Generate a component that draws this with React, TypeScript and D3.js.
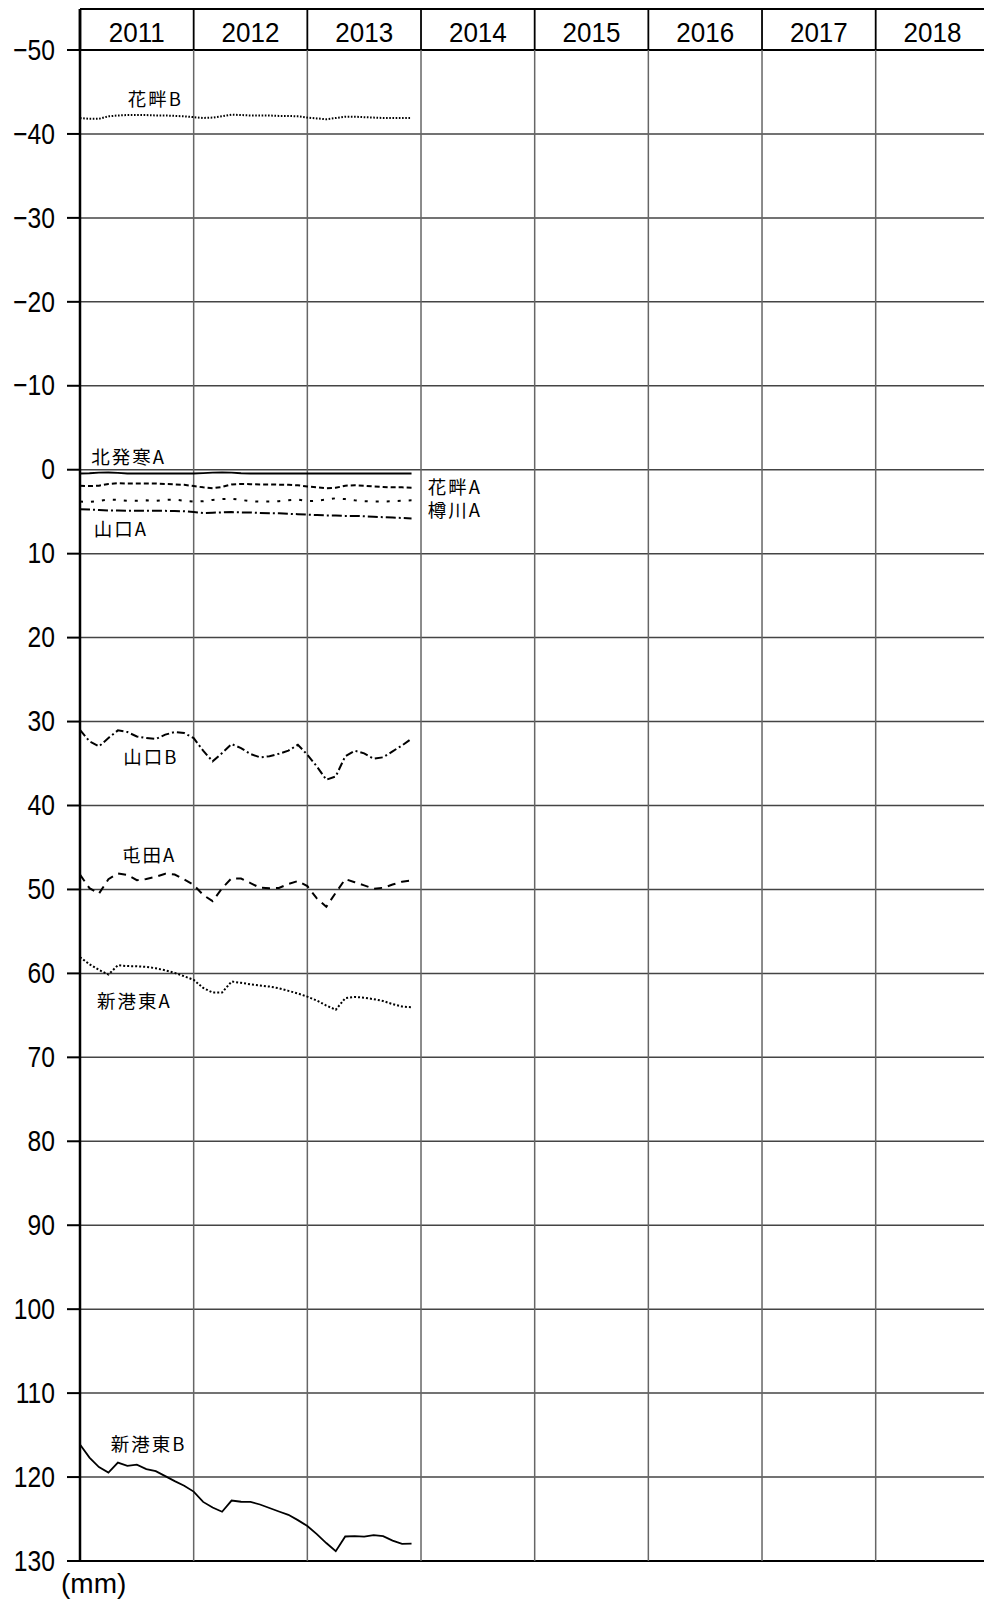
import React from "react";
import * as d3 from "d3";

// ---- Data (monthly, Jan 2011 – Dec 2013), settlement in mm ----
const years = ["2011", "2012", "2013", "2014", "2015", "2016", "2017", "2018"];
const yTicks = [-50, -40, -30, -20, -10, 0, 10, 20, 30, 40, 50, 60, 70, 80, 90, 100, 110, 120, 130];

const hanaguroB = [-41.9, -41.8, -41.8, -42.1, -42.2, -42.25, -42.25, -42.25, -42.2, -42.2, -42.15, -42.1,
  -42.0, -41.9, -41.95, -42.1, -42.3, -42.25, -42.2, -42.2, -42.2, -42.15, -42.15, -42.1,
  -41.95, -41.85, -41.75, -41.9, -42.05, -42.05, -42.0, -41.95, -41.9, -41.9, -41.9, -41.9];
const kitahassamuA = [0.45, 0.42, 0.35, 0.33, 0.38, 0.45, 0.45, 0.45, 0.45, 0.45, 0.45, 0.45,
  0.45, 0.4, 0.35, 0.33, 0.35, 0.42, 0.45, 0.45, 0.45, 0.45, 0.45, 0.45,
  0.45, 0.45, 0.45, 0.45, 0.45, 0.45, 0.45, 0.45, 0.45, 0.45, 0.45, 0.45];
const hanaguroA = [1.9, 1.95, 1.9, 1.7, 1.6, 1.65, 1.65, 1.65, 1.65, 1.7, 1.75, 1.8,
  1.95, 2.1, 2.2, 2.05, 1.75, 1.7, 1.72, 1.75, 1.75, 1.78, 1.8, 1.85,
  2.0, 2.1, 2.2, 2.15, 1.9, 1.85, 1.9, 2.0, 2.05, 2.1, 2.1, 2.15];
const tarukawaA = [3.8, 3.85, 3.7, 3.55, 3.6, 3.7, 3.7, 3.65, 3.7, 3.6, 3.55, 3.7,
  3.8, 3.75, 3.6, 3.5, 3.45, 3.6, 3.75, 3.8, 3.8, 3.75, 3.65, 3.55,
  3.75, 3.7, 3.55, 3.4, 3.5, 3.65, 3.75, 3.8, 3.8, 3.75, 3.7, 3.65];
const yamaguchiA = [4.7, 4.75, 4.8, 4.85, 4.85, 4.88, 4.88, 4.9, 4.9, 4.9, 4.92, 4.95,
  5.05, 5.15, 5.12, 5.08, 5.05, 5.08, 5.1, 5.15, 5.18, 5.2, 5.25, 5.3,
  5.35, 5.4, 5.45, 5.45, 5.5, 5.5, 5.55, 5.6, 5.65, 5.7, 5.75, 5.8];
const yamaguchiB = [31.0, 32.36, 32.96, 31.96, 31.05, 31.25, 31.77, 31.97, 32.08, 31.56, 31.25, 31.37,
  31.97, 33.47, 34.74, 33.75, 32.68, 33.16, 33.87, 34.26, 34.14, 33.83, 33.47, 32.76,
  33.95, 35.34, 36.93, 36.53, 34.14, 33.47, 33.79, 34.42, 34.26, 33.55, 32.84, 32.04];
const tondenA = [48.24, 49.85, 50.5, 48.78, 48.1, 48.27, 48.89, 48.75, 48.5, 48.13, 48.22, 48.82,
  49.46, 50.65, 51.4, 49.85, 48.67, 48.7, 49.24, 49.8, 49.86, 49.82, 49.35, 49.0,
  49.6, 51.07, 52.06, 50.39, 48.77, 49.14, 49.52, 49.92, 49.8, 49.42, 49.07, 48.93];
const shinkoHigashiA = [58.07, 58.91, 59.58, 60.14, 59.03, 59.13, 59.15, 59.23, 59.39, 59.63, 59.94, 60.34,
  60.77, 61.73, 62.28, 62.28, 60.97, 61.12, 61.3, 61.44, 61.57, 61.77, 62.08, 62.39,
  62.77, 63.23, 63.83, 64.33, 62.96, 62.8, 62.9, 63.07, 63.29, 63.66, 63.95, 64.03];
const shinkoHigashiB = [116.13, 117.68, 118.81, 119.46, 118.27, 118.67, 118.53, 119.05, 119.29, 119.89, 120.48, 121.03,
  121.73, 122.96, 123.63, 124.13, 122.8, 122.94, 122.96, 123.27, 123.69, 124.1, 124.5, 125.13,
  125.84, 126.79, 127.86, 128.83, 127.08, 127.04, 127.1, 126.93, 127.04, 127.57, 127.95, 127.92];

const seriesNames = ["花畔B", "北発寒A", "花畔A", "樽川A", "山口A", "山口B", "屯田A", "新港東A", "新港東B"];
const seriesValues = [hanaguroB, kitahassamuA, hanaguroA, tarukawaA, yamaguchiA, yamaguchiB, tondenA, shinkoHigashiA, shinkoHigashiB];
const seriesDash = ["1.6,1.6", "", "5,3", "3,8", "10,3,2,3", "8,3,2,3", "8,6", "2,2", ""];

// label anchor positions in data coordinates (year, mm)
const labelYear = [2011.42, 2011.1, 2014.06, 2014.06, 2011.12, 2011.38, 2011.37, 2011.15, 2011.27];
const labelValue = [-44.3, -1.65, 1.95, 4.7, 6.95, 34.1, 45.8, 63.2, 115.95];

export default function App() {
  const left = 80;
  const colW = 113.67;
  const x = d3.scaleLinear().domain([2011, 2019]).range([left, left + 8 * colW]);
  const y = d3.scaleLinear().domain([-50, 130]).range([50, 1561]);
  const right = x(2019);
  const topY = 9;

  const line = d3
    .line<number>()
    .x((_, i) => x(2011 + i / 12))
    .y((v) => y(v));

  const cjk = "'Noto Sans CJK JP', 'Noto Sans', sans-serif";
  const num = "'Liberation Sans', Arial, sans-serif";

  return (
    <svg
      width={984}
      height={1600}
      style={{ position: "absolute", left: 0, top: 0, background: "#fff" }}
    >
      <rect x={0} y={0} width={984} height={1600} fill="#fff" />
      {/* horizontal grid lines */}
      {yTicks.map((t) => (
        <line key={"h" + t} x1={left} x2={right} y1={y(t)} y2={y(t)}
          stroke={t === -50 || t === 130 ? "#000" : "#444"} strokeWidth={t === -50 || t === 130 ? 2 : 1.5} />
      ))}
      {/* tick marks */}
      {yTicks.map((t) => (
        <line key={"t" + t} x1={67} x2={left} y1={y(t)} y2={y(t)} stroke="#000" strokeWidth={2} />
      ))}
      {/* vertical column lines */}
      {years.map((yr, i) => (
        <g key={"v" + yr}>
          {i > 0 && (
            <line x1={x(2011 + i)} x2={x(2011 + i)} y1={y(-50)} y2={y(130)} stroke="#666" strokeWidth={1.5} />
          )}
          <line x1={x(2011 + i)} x2={x(2011 + i)} y1={topY} y2={y(-50)} stroke="#000" strokeWidth={i === 0 ? 2.5 : 1.8} />
          <g transform={`translate(${x(2011 + i + 0.5)},${y(-50) - 17}) scale(0.93,1)`}>
            <text x={0} y={0} textAnchor="middle" dominantBaseline="central"
              fontFamily={num} fontSize={28} fill="#000">{yr}</text>
          </g>
        </g>
      ))}
      <line x1={x(2019)} x2={x(2019)} y1={topY} y2={y(130)} stroke="#666" strokeWidth={1.5} />
      {/* top border */}
      <line x1={left} x2={right} y1={topY} y2={topY} stroke="#000" strokeWidth={2} />
      {/* left axis */}
      <line x1={left} x2={left} y1={topY} y2={y(130)} stroke="#000" strokeWidth={2.5} />
      {/* y tick labels */}
      {yTicks.map((t) => (
        <g key={"l" + t} transform={`translate(55,${y(t)}) scale(0.85,1)`}>
          <text x={0} y={0} textAnchor="end" dominantBaseline="central" fontFamily={num} fontSize={29} fill="#000">
            {t < 0 ? "\u2212" + Math.abs(t) : String(t)}
          </text>
        </g>
      ))}
      <text x={61} y={1593} fontFamily={num} fontSize={28} fill="#000">(mm)</text>

      {/* series */}
      {seriesValues.map((vals, k) => (
        <path key={"s" + k} d={line(vals) || ""} fill="none" stroke="#000"
          strokeWidth={k === 1 || k === 8 ? 1.8 : 2} strokeDasharray={seriesDash[k] || undefined} />
      ))}
      {/* series labels */}
      {seriesNames.map((n, k) => (
        <text key={"n" + k} x={x(labelYear[k])} y={y(labelValue[k])} dominantBaseline="central"
          fontFamily={cjk} fontSize={18.5} letterSpacing={2} fill="#000">{n}</text>
      ))}
    </svg>
  );
}
